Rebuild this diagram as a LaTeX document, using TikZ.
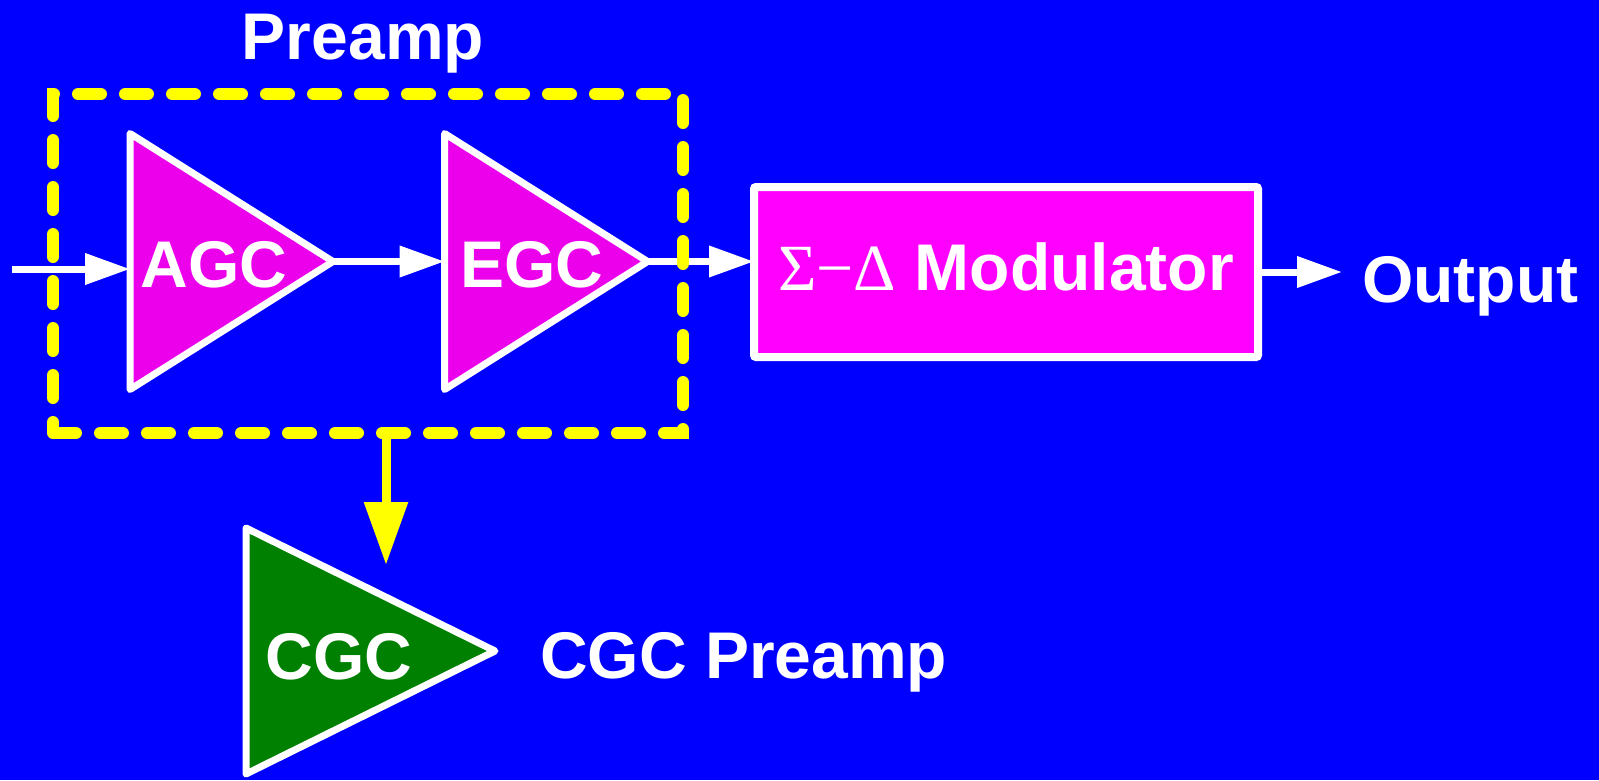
\documentclass[tikz,border=0pt]{standalone}
\usepackage{fontspec}
\setmainfont{Liberation Sans}
\newfontfamily\greekserif{Liberation Serif}
\usetikzlibrary{arrows.meta,positioning,shapes.geometric}
\definecolor{slideblue}{RGB}{0,0,255}
\definecolor{ampmagenta}{RGB}{236,0,236}
\definecolor{modmagenta}{RGB}{255,0,255}
\definecolor{cgcgreen}{RGB}{0,128,0}
\definecolor{markyellow}{RGB}{255,255,0}

\begin{document}
\begin{tikzpicture}[
  x=1pt,y=-1pt,
  font=\fontsize{66}{70}\selectfont\bfseries,
  amp/.style={isosceles triangle,isosceles triangle stretches,draw=white,
    line width=7pt,line join=round,inner sep=0pt,outer sep=0pt,anchor=lower side},
  modbox/.style={draw=white,fill=modmagenta,line width=8pt,rounded corners=2pt,
    inner sep=0pt,outer sep=0pt},
  groupbox/.style={draw=markyellow,line width=12pt,line cap=round,
    dash pattern=on 23pt off 24pt,inner sep=0pt,outer sep=0pt},
  lbl/.style={text=white,inner sep=0pt},
  flow/.style={-{Triangle[length=45pt,width=30pt]},draw=white,line width=7pt},
  feed/.style={-{Triangle[length=63pt,width=42pt]},draw=markyellow,line width=9pt}]
\fill[slideblue] (0,0) rectangle (1599,780);
\path[use as bounding box] (0,0) rectangle (1599,780);

% amplifiers (min height runs along the apex axis)
\node[amp,fill=ampmagenta,minimum height=203pt,minimum width=256pt] (agc) at (130,261.5) {};
\node[amp,fill=ampmagenta,minimum height=203pt,minimum width=256pt] (egc) at (444.6,261.5) {};
\node[amp,fill=cgcgreen,minimum height=249pt,minimum width=246pt] (cgc) at (246,651) {};
\node[lbl] (agctxt) at ([xshift=84pt,yshift=-3pt]agc.lower side) {AGC};
\node[lbl] (egctxt) at ([xshift=87pt,yshift=-3pt]egc.lower side) {EGC};
\node[lbl] (cgctxt) at ([xshift=93pt,yshift=-6pt]cgc.lower side) {CGC};

% modulator and output
\node[modbox,minimum width=504pt,minimum height=170pt] (mod) at (1006,272) {};
\node[lbl] (modtxt) at ([yshift=5pt]mod.center) {{\greekserif\mdseries Σ−Δ} Modulator};
\node[lbl,anchor=base west] (out) at (1362,302) {Output};

% signal path
\coordinate (src) at (12,269);
\draw[flow] (src) -- (src -| agc.lower side);
\draw[flow] (agc.apex) -- (egc.lower side);
\draw[flow] (egc.apex) -- (egc.apex -| mod.west);
\draw[flow,shorten >=20pt] (mod.east) -- (mod.east -| out.west);

% preamp group
\node[groupbox,minimum width=630pt,minimum height=339pt] (pre) at (368,263.5) {};
\node[lbl,anchor=base] (pretitle) at (363,59) {Preamp};
\coordinate (cgctip) at (386,565);
\draw[feed] ([xshift=18pt]pre.south) -- (cgctip);
\node[lbl,anchor=base west] (cgcname) at (540,678) {CGC Preamp};
\end{tikzpicture}
\end{document}
